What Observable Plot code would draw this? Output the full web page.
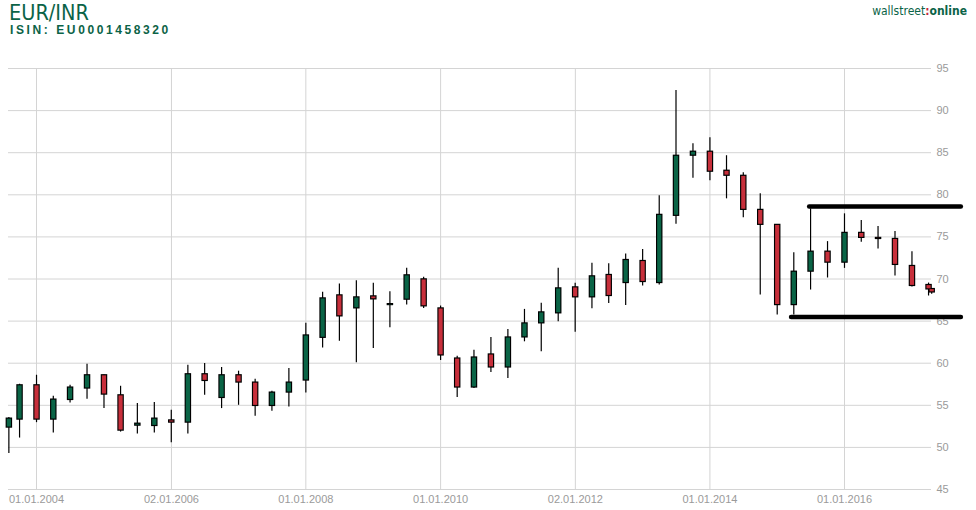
<!DOCTYPE html>
<html><head><meta charset="utf-8">
<script src="https://cdn.jsdelivr.net/npm/d3@7"></script>
<script src="https://cdn.jsdelivr.net/npm/@observablehq/plot@0.6"></script>
<style>
body{margin:0;background:#fff;}
#wrap{position:relative;width:976px;height:510px;overflow:hidden;}
#head{position:relative;height:60px;}
#t1{position:absolute;left:9px;top:1px;font:21.5px "DejaVu Sans Condensed","DejaVu Sans",sans-serif;color:#0b6347;line-height:24px;}
#t2{position:absolute;left:10px;top:22px;font:bold 12px "Liberation Sans",Arial,sans-serif;letter-spacing:2.6px;color:#0b6347;line-height:16px;}
#logo{position:absolute;right:9px;top:3px;font:12px "DejaVu Sans Condensed","DejaVu Sans",sans-serif;color:#0b6347;line-height:16px;}
#logo .c{color:#c8283c;font-weight:bold;}
#chart svg{display:block;}
</style></head><body>
<div id="wrap">
<div id="head">
<div id="t1">EUR/INR</div>
<div id="t2">ISIN: EU0001458320</div>
<div id="logo">wallstreet<span class="c">:</span><b>online</b></div>
</div>
<div id="chart"></div>
</div>
<script>
const dates = ["2003-08-04","2003-10-01","2004-01-01","2004-04-01","2004-07-01","2004-10-01","2005-01-01","2005-04-01","2005-07-01","2005-10-01",
"2006-01-01","2006-04-01","2006-07-01","2006-10-01","2007-01-01","2007-04-01","2007-07-01","2007-10-01","2008-01-01","2008-04-01",
"2008-07-01","2008-10-01","2009-01-01","2009-04-01","2009-07-01","2009-10-01","2010-01-01","2010-04-01","2010-07-01","2010-10-01",
"2011-01-01","2011-04-01","2011-07-01","2011-10-01","2012-01-01","2012-04-01","2012-07-01","2012-10-01","2013-01-01","2013-04-01",
"2013-07-01","2013-10-01","2014-01-01","2014-04-01","2014-07-01","2014-10-01","2015-01-01","2015-04-01","2015-07-01","2015-10-01",
"2016-01-01","2016-04-01","2016-07-01","2016-10-01","2017-01-01","2017-04-01","2017-04-18"];
const open  = [52.35,53.30,57.38,53.30,55.63,56.99,58.57,56.19,52.58,52.54,
53.21,52.94,58.69,55.87,58.57,57.70,54.92,56.51,57.94,63.01,
68.06,66.51,67.94,66.90,67.54,69.96,66.51,60.56,57.11,61.04,
59.49,63.06,64.73,65.92,69.01,67.82,70.48,69.52,72.14,69.52,
77.50,84.64,85.12,82.86,82.26,78.21,76.43,66.90,70.87,73.25,
71.94,75.48,74.88,74.76,71.55,69.29,68.81];
const high  = [53.54,57.50,58.57,56.07,57.38,59.88,58.60,57.26,55.20,55.32,
54.40,59.76,59.96,59.49,59.05,58.10,56.67,59.37,64.73,68.42,
69.40,69.80,69.49,68.49,71.27,70.20,66.79,60.83,61.55,63.06,
64.01,66.39,67.11,71.27,69.49,71.87,71.82,72.98,73.49,79.88,
92.38,86.07,86.79,84.64,82.62,80.12,76.43,73.13,78.33,74.44,
77.74,76.94,76.23,75.63,73.25,69.52,68.81];
const low   = [49.29,51.11,52.94,51.70,55.27,55.71,54.61,51.82,51.58,51.70,
50.56,51.58,56.19,54.61,55.00,53.69,54.29,54.80,56.46,61.82,
62.62,60.04,61.75,64.20,66.90,66.51,60.32,55.92,56.99,58.89,
58.18,62.54,61.35,64.92,63.69,66.46,67.10,66.86,69.17,69.29,
76.50,81.98,81.67,79.52,77.26,68.10,65.71,65.71,68.69,70.12,
71.26,74.36,73.57,70.36,69.05,67.98,68.20];
const close = [53.42,57.38,53.30,55.68,57.11,58.57,56.27,51.99,52.82,53.42,
52.94,58.69,57.89,58.57,57.70,54.92,56.51,57.70,63.30,67.70,
65.56,67.82,67.58,67.02,70.44,66.75,60.92,57.11,60.68,59.49,
63.06,64.73,66.04,68.89,67.82,70.32,67.98,72.26,69.64,77.62,
84.64,85.12,82.74,82.26,78.21,76.43,66.90,70.87,73.25,71.94,
75.48,74.88,74.75,71.67,69.17,68.76,68.40];

const xTickDates  = ["2004-01-01","2006-01-02","2008-01-01","2010-01-01","2012-01-02","2014-01-01","2016-01-01"];
const xTickLabels = ["01.01.2004","02.01.2006","01.01.2008","01.01.2010","02.01.2012","01.01.2014","01.01.2016"];
const yTicks = [45,50,55,60,65,70,75,80,85,90,95];

// annotation lines (support / resistance)
const levelStart = ["2015-06-26","2015-03-20"];
const levelEnd   = ["2017-09-26","2017-09-26"];
const levelValue = [78.6,65.48];

const candles = dates.map((d,i)=>({date:new Date(d),open:open[i],high:high[i],low:low[i],close:close[i]}));
const levels = levelValue.map((v,i)=>({x1:new Date(levelStart[i]),x2:new Date(levelEnd[i]),y:v}));
const tickD = xTickDates.map(d=>new Date(d));
const labelMap = new Map(tickD.map((d,i)=>[+d,xTickLabels[i]]));

const GREEN="#0a6446", RED="#c72f3b";

const chart = Plot.plot({
  width:976, height:450,
  marginTop:8, marginBottom:21, marginLeft:8, marginRight:45,
  style:{fontFamily:"'Liberation Sans',Arial,sans-serif",fontSize:"11px",background:"#fff",overflow:"visible"},
  x:{type:"time",domain:[new Date("2003-08-02"),new Date("2017-04-17")]},
  y:{domain:[45,95]},
  marks:[
    Plot.gridY(yTicks,{stroke:"#d4d4d4",strokeOpacity:1,strokeWidth:1}),
    Plot.gridX(tickD,{stroke:"#d4d4d4",strokeOpacity:1,strokeWidth:1}),
    Plot.axisY(yTicks,{anchor:"right",tickSize:0,tickPadding:5,fill:"#9a9a9a",fontSize:11,label:null}),
    Plot.axisX(tickD,{anchor:"bottom",tickSize:0,tickPadding:6,fill:"#9a9a9a",fontSize:11,label:null,tickFormat:d=>labelMap.get(+d)}),
    Plot.ruleX(candles,{x:"date",y1:"low",y2:"high",stroke:"#000",strokeWidth:1.2}),
    Plot.ruleX(candles,{x:"date",y1:d=>Math.max(d.open,d.close),y2:d=>Math.min(d.open,d.close),stroke:"#000",strokeWidth:6.5,insetTop:-0.6,insetBottom:-0.6}),
    Plot.ruleX(candles,{x:"date",y1:d=>Math.max(d.open,d.close),y2:d=>Math.min(d.open,d.close),stroke:d=>d.close>=d.open?GREEN:RED,strokeWidth:4.2,insetTop:0.6,insetBottom:0.6}),
    Plot.ruleY(levels,{x1:"x1",x2:"x2",y:"y",stroke:"#000",strokeWidth:4.5,strokeLinecap:"round"})
  ]
});
document.getElementById("chart").appendChild(chart);
</script>
</body></html>
